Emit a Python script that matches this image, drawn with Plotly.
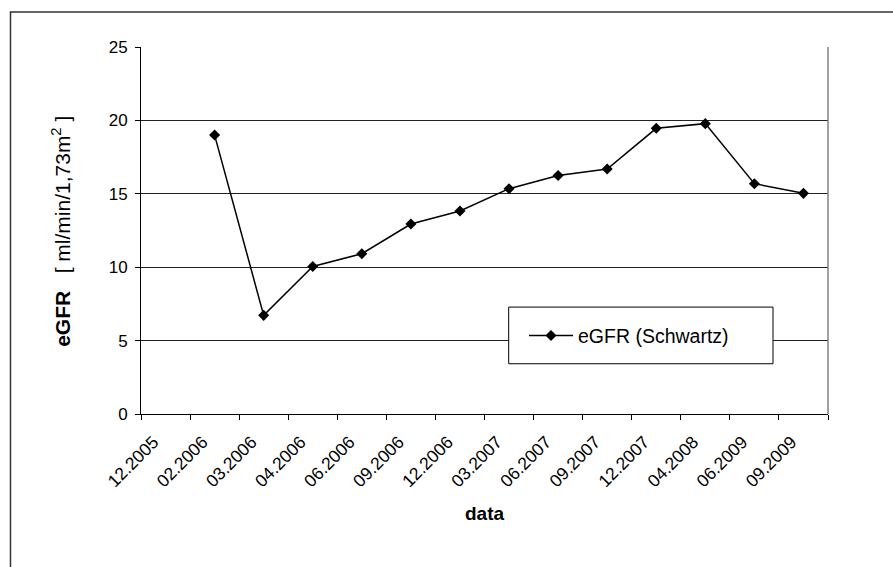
import plotly.graph_objects as go

categories = ["12.2005", "02.2006", "03.2006", "04.2006", "06.2006", "09.2006",
              "12.2006", "03.2007", "06.2007", "09.2007", "12.2007", "04.2008",
              "06.2009", "09.2009"]
egfr_values = [None, 19.0, 6.72, 10.05, 10.92, 12.94, 13.83, 15.35, 16.25,
               16.69, 19.46, 19.78, 15.69, 15.03]
series_name = "eGFR (Schwartz)"
y_ticks = [0, 5, 10, 15, 20, 25]

FONT = "Liberation Sans, Arial, sans-serif"
W, H = 893, 567
L, R, T, B = 141, 828, 47, 414.3
pw, ph = R - L, B - T

def px(x):
    return (x - L) / pw

def py(y):
    return (B - y) / ph

fig = go.Figure()
fig.add_trace(go.Scatter(
    x=categories, y=egfr_values, name=series_name, mode="lines+markers",
    line=dict(color="black", width=1.5),
    marker=dict(symbol="diamond", size=8.5, color="black"),
    connectgaps=False,
))

fig.update_layout(
    width=W, height=H,
    margin=dict(l=L, r=W - R, t=T, b=H - B, pad=0),
    paper_bgcolor="white", plot_bgcolor="white",
    font=dict(family=FONT, size=17, color="black"),
    showlegend=True,
    legend=dict(x=px(524), y=py(336), xanchor="left", yanchor="middle",
                bgcolor="rgba(0,0,0,0)", borderwidth=0,
                font=dict(size=19.5, family=FONT), itemwidth=44),
    xaxis=dict(type="category", categoryorder="array", categoryarray=categories,
               range=[-0.5, len(categories) - 0.5],
               tickson="boundaries", ticks="outside", ticklen=5,
               tickcolor="black", tickangle=-45, showgrid=False,
               showline=True, linecolor="black", linewidth=1,
               tickfont=dict(size=17.5), ticklabelshift=-12,
               ticklabelstandoff=10, zeroline=False),
    yaxis=dict(range=[0, 25], tickvals=y_ticks, ticks="outside", ticklen=5,
               tickcolor="black", showgrid=True, gridcolor="#222", gridwidth=1,
               showline=True, linecolor="black", linewidth=1,
               tickfont=dict(size=17), ticklabelstandoff=4, zeroline=False),
)

# plot-area right border (gray)
fig.add_shape(type="line", xref="paper", yref="paper", x0=1, x1=1, y0=0, y1=1,
              line=dict(color="#808080", width=1.5))
# outer chart border
fig.add_shape(type="rect", xref="paper", yref="paper",
              x0=px(10.5), x1=px(W + 20), y0=py(H + 20), y1=py(12),
              line=dict(color="#333", width=1.5), layer="below")
# legend box
fig.add_shape(type="rect", xref="paper", yref="paper",
              x0=px(508.7), x1=px(773), y0=py(364), y1=py(307.3),
              line=dict(color="black", width=1), fillcolor="white", layer="above")

fig.add_annotation(x=px(61), y=py(232), xref="paper", yref="paper",
                   text="<b>eGFR</b>   [ ml/min/1,73m<sup>2</sup> ]", textangle=-90,
                   showarrow=False, xanchor="center", yanchor="middle",
                   font=dict(size=21, family=FONT))
fig.add_annotation(x=px(485), y=py(514), xref="paper", yref="paper",
                   text="<b>data</b>", showarrow=False,
                   xanchor="center", yanchor="middle",
                   font=dict(size=19, family=FONT))

fig.write_html("out.html",
               config={"displayModeBar": False},
               post_script="document.body.style.margin='0px';"
                           "document.body.style.overflow='hidden';")
